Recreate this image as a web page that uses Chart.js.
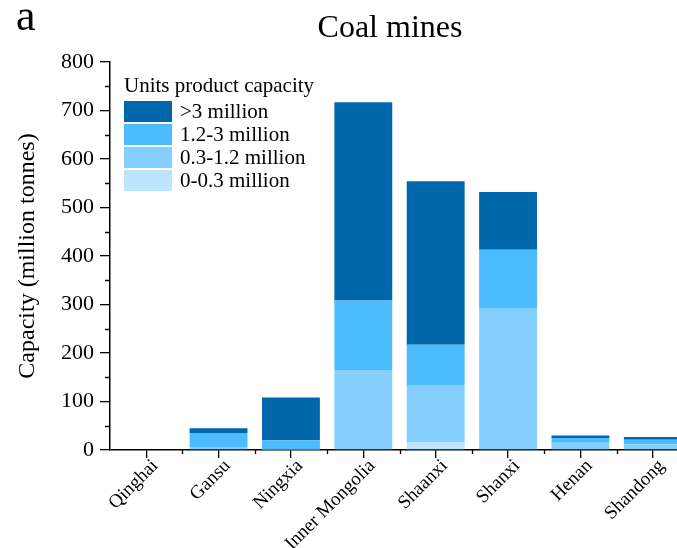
<!DOCTYPE html>
<html lang="en">
<head>
<meta charset="utf-8" />
<script src="https://cdn.jsdelivr.net/npm/chart.js@4.4.1/dist/chart.umd.min.js"></script>
<style>
  html, body { margin: 0; padding: 0; overflow: hidden; background: #fff; }
  #wrap { width: 692px; height: 548px; }
</style>
<title>Coal mines</title>
</head>
<body>
<div id="wrap"><canvas id="coal" width="692" height="548"></canvas></div>
<script>
// provinces on the x axis
const provinces = ["Qinghai", "Gansu", "Ningxia", "Inner Mongolia", "Shaanxi", "Shanxi", "Henan", "Shandong"];
// capacity (million tonnes) per unit size class
const cap_0_03  = [0, 0, 0, 0, 16, 0, 0, 0];
const cap_03_12 = [0, 6, 1, 165, 118, 291, 15, 12];
const cap_12_3  = [0, 29, 19, 143, 83, 122, 10, 9];
const cap_gt3   = [0, 10, 88, 409, 337, 119, 5, 6];
const yTicks = [0, 100, 200, 300, 400, 500, 600, 700, 800];

const serif = "'Liberation Serif', 'DejaVu Serif', serif";

// bottom to top in the stack
const series = [
  { label: "0-0.3 million",   data: cap_0_03,  color: "#BEE5FF" },
  { label: "0.3-1.2 million", data: cap_03_12, color: "#85CFFF" },
  { label: "1.2-3 million",   data: cap_12_3,  color: "#4DBBFF" },
  { label: ">3 million",      data: cap_gt3,   color: "#0068AA" }
];

// title, panel letter, legend box and minor ticks
const extras = {
  id: "extras",
  afterDraw(chart) {
    const ctx = chart.ctx;
    const area = chart.chartArea;
    const xs = chart.scales.x, ys = chart.scales.y;
    ctx.save();
    ctx.fillStyle = "#000";
    ctx.textBaseline = "alphabetic";
    ctx.font = "44px " + serif;
    ctx.textAlign = "left";
    ctx.fillText("a", 16, 30);
    ctx.font = "32px " + serif;
    ctx.textAlign = "center";
    ctx.fillText("Coal mines", 390, 37);

    // minor ticks
    ctx.strokeStyle = "#000";
    ctx.lineWidth = 1.3;
    ctx.beginPath();
    for (let v = 50; v < 800; v += 100) {
      const py = Math.round(ys.getPixelForValue(v)) + 0.5;
      ctx.moveTo(area.left - 5, py);
      ctx.lineTo(area.left, py);
    }
    for (let i = 0; i < provinces.length; i++) {
      const px = Math.round((xs.getPixelForValue(i) + xs.getPixelForValue(i + 1)) / 2) + 0.5;
      ctx.moveTo(px, area.bottom);
      ctx.lineTo(px, area.bottom + 4);
    }
    ctx.stroke();

    // legend
    ctx.textAlign = "left";
    ctx.font = "21px " + serif;
    ctx.fillText("Units product capacity", 124, 92);
    const rev = chart.data.datasets.slice().reverse();
    rev.forEach((d, k) => {
      const y = 101 + k * 23;
      ctx.fillStyle = d.backgroundColor;
      ctx.fillRect(124, y, 48, 21);
      ctx.fillStyle = "#000";
      ctx.textBaseline = "middle";
      ctx.fillText(d.label, 180, y + 11);
    });
    ctx.restore();
  }
};

new Chart(document.getElementById("coal").getContext("2d"), {
  type: "bar",
  data: {
    labels: provinces,
    datasets: series.map(s => ({
      label: s.label,
      data: s.data,
      backgroundColor: s.color,
      borderWidth: 0,
      barPercentage: 0.8,
      categoryPercentage: 1
    }))
  },
  options: {
    responsive: false,
    animation: false,
    layout: { padding: { top: 62, right: 3, left: 0, bottom: 0 } },
    plugins: {
      legend: { display: false },
      title: { display: false },
      tooltip: { enabled: false }
    },
    scales: {
      x: {
        stacked: true,
        offset: true,
        afterFit: s => { s.height = 98; },
        grid: { offset: false, drawOnChartArea: false, color: "#000", tickLength: 8, lineWidth: 1.3 },
        border: { color: "#000", width: 1.5 },
        ticks: {
          autoSkip: false, minRotation: 45, maxRotation: 45, padding: -3, labelOffset: 9,
          color: "#000", font: { family: serif, size: 19 }
        }
      },
      y: {
        stacked: true,
        min: 0, max: 800,
        afterFit: s => { s.width = 110; },
        afterBuildTicks: s => { s.ticks = yTicks.map(v => ({ value: v })); },
        grid: { drawOnChartArea: false, color: "#000", tickLength: 10, lineWidth: 1.3 },
        border: { color: "#000", width: 1.5 },
        ticks: { padding: 6, color: "#000", font: { family: serif, size: 22 } },
        title: {
          display: true, text: "Capacity (million tonnes)", color: "#000",
          font: { family: serif, size: 24 }, padding: { top: 13, bottom: 0 }
        }
      }
    }
  },
  plugins: [extras]
});
</script>
</body>
</html>
